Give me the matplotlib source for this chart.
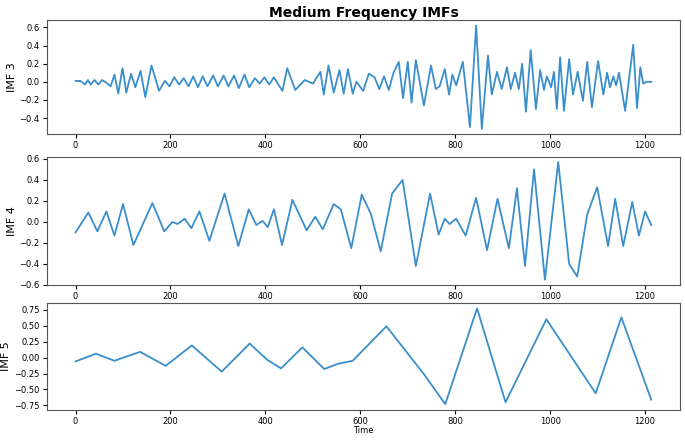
import matplotlib
matplotlib.use("Agg")
import matplotlib.pyplot as plt

imf3_x = [0,10,20,26,32,40,48,56,65,74,82,90,99,107,117,126,137,147,160,176,188,198,208,218,228,238,248,258,268,278,290,300,312,322,334,344,356,366,378,388,398,408,418,426,436,446,463,483,500,516,523,533,544,556,565,574,584,592,606,618,630,640,650,660,670,681,690,700,708,717,734,749,759,767,778,787,794,802,816,831,844,856,869,877,888,898,909,917,926,934,941,949,959,970,979,987,993,1002,1008,1014,1021,1029,1040,1048,1058,1069,1078,1088,1101,1112,1120,1126,1133,1139,1145,1158,1175,1183,1190,1196,1203,1213]
imf3_y = [0.01,0.01,-0.03,0.02,-0.03,0.02,-0.03,0.02,-0.01,-0.05,0.08,-0.13,0.15,-0.12,0.09,-0.06,0.12,-0.17,0.18,-0.1,0.01,-0.05,0.05,-0.03,0.04,-0.05,0.06,-0.06,0.06,-0.05,0.07,-0.05,0.07,-0.05,0.07,-0.07,0.08,-0.06,0.04,-0.02,0.05,-0.03,0.05,-0.02,-0.1,0.15,-0.09,0.02,-0.02,0.11,-0.14,0.18,-0.12,0.13,-0.13,0.14,-0.13,0.0,-0.1,0.09,0.05,-0.08,0.06,-0.09,0.1,0.22,-0.18,0.22,-0.23,0.24,-0.26,0.18,-0.08,-0.05,0.14,-0.14,0.08,-0.04,0.22,-0.5,0.62,-0.52,0.29,-0.14,0.11,-0.08,0.16,-0.08,0.1,-0.08,0.2,-0.33,0.35,-0.3,0.13,-0.09,0.06,-0.06,0.11,-0.3,0.27,-0.32,0.25,-0.14,0.11,-0.21,0.22,-0.28,0.23,-0.14,0.1,-0.06,0.06,-0.04,0.1,-0.32,0.41,-0.29,0.16,-0.02,0.0,0.0]

imf4_x = [0,27,46,65,82,100,122,162,187,204,215,230,244,261,282,314,343,365,381,394,405,418,435,457,487,505,521,544,559,581,603,622,643,667,689,717,747,765,778,788,802,822,844,867,889,913,930,947,966,989,1017,1040,1057,1078,1099,1122,1137,1154,1173,1187,1200,1213]
imf4_y = [-0.1,0.09,-0.09,0.1,-0.13,0.17,-0.22,0.18,-0.09,0.0,-0.02,0.03,-0.06,0.1,-0.18,0.27,-0.23,0.12,-0.03,0.01,-0.05,0.12,-0.22,0.21,-0.08,0.05,-0.07,0.17,0.12,-0.25,0.26,0.08,-0.28,0.27,0.4,-0.42,0.27,-0.12,0.03,-0.02,0.03,-0.13,0.23,-0.27,0.22,-0.25,0.32,-0.42,0.5,-0.55,0.57,-0.4,-0.52,0.07,0.33,-0.23,0.22,-0.23,0.19,-0.13,0.1,-0.03]

imf5_x = [0,43,82,136,190,245,308,367,403,433,478,524,552,584,655,734,779,846,906,992,1096,1150,1213]
imf5_y = [-0.06,0.06,-0.05,0.09,-0.13,0.19,-0.22,0.22,-0.03,-0.17,0.16,-0.18,-0.1,-0.05,0.49,-0.26,-0.73,0.77,-0.7,0.6,-0.56,0.63,-0.66]

font = "Noto Sans CJK SC"
fig = plt.figure(figsize=(6.85, 4.48), dpi=100)
axes = [fig.add_axes([0.068, 0.70, 0.925, 0.255]),
        fig.add_axes([0.068, 0.364, 0.925, 0.286]),
        fig.add_axes([0.068, 0.085, 0.925, 0.238])]
data = [(imf3_x, imf3_y, "IMF 3"), (imf4_x, imf4_y, "IMF 4"), (imf5_x, imf5_y, "IMF 5")]
for ax, (x, y, lab) in zip(axes, data):
    ax.plot(x, y, color="#3a8fcb", lw=1.3)
    ax.set_ylabel(lab, fontfamily=font, fontsize=8, labelpad=2)
    ax.tick_params(labelsize=6, length=3, pad=2)
    for s in ax.spines.values():
        s.set_color("#555555")
    ax.set_xlim(-61, 1274)
axes[0].set_ylim(-0.58, 0.68)
axes[0].set_yticks([-0.4, -0.2, 0.0, 0.2, 0.4, 0.6])
axes[1].set_ylim(-0.6, 0.62)
axes[1].set_yticks([-0.6, -0.4, -0.2, 0.0, 0.2, 0.4, 0.6])
axes[2].set_ylim(-0.82, 0.85)
axes[2].set_yticks([-0.75, -0.5, -0.25, 0.0, 0.25, 0.5, 0.75])
axes[0].set_title("Medium Frequency IMFs", fontfamily=font, fontsize=10, fontweight="bold", pad=1)
axes[2].set_xlabel("Time", fontfamily=font, fontsize=6, labelpad=0)
fig.savefig("out.png", dpi=100)
